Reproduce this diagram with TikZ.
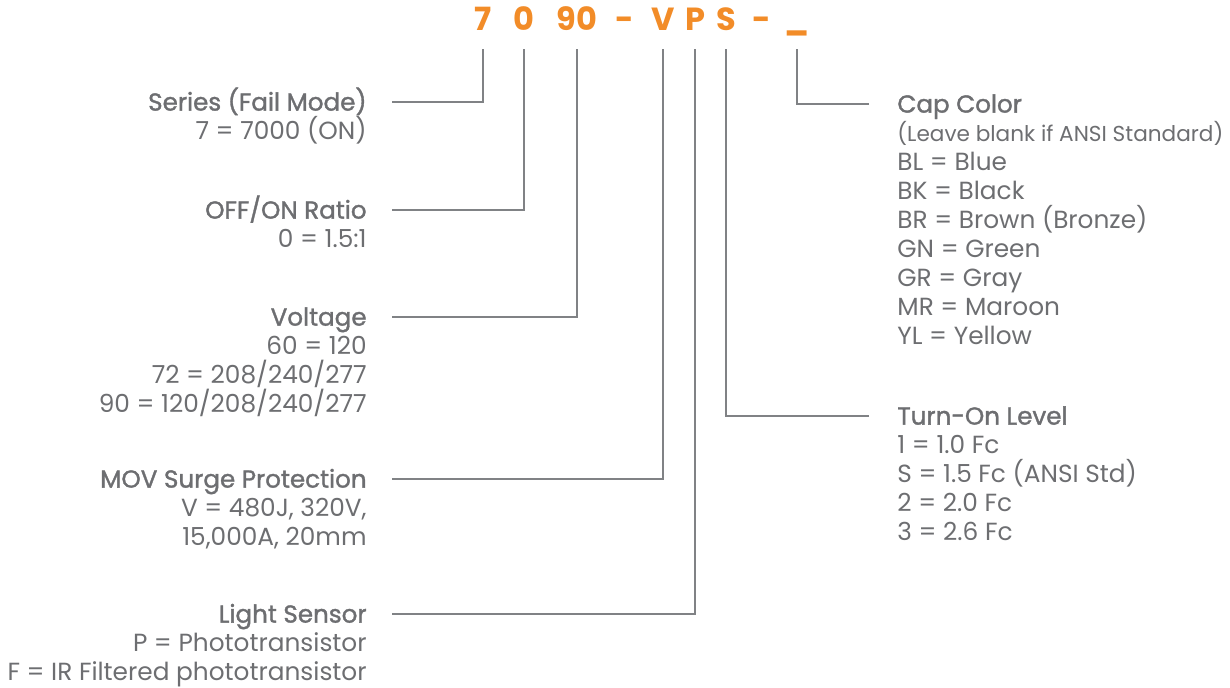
\documentclass[tikz,border=0pt]{standalone}
\usepackage{fontspec}
\setmainfont{Poppins}
\definecolor{codeorange}{HTML}{F28C28}
\definecolor{txtgray}{HTML}{6D6E71}
\definecolor{linegray}{HTML}{808285}
\begin{document}
\begin{tikzpicture}[x=0.5pt,y=-0.5pt,
  code/.style={font=\fontsize{16}{16}\selectfont\bfseries,text=codeorange,inner sep=0pt,anchor=base},
  head/.style={font=\fontsize{12.3}{14.5}\selectfont\addfontfeatures{FakeBold=1.4},text=txtgray,inner sep=0pt,text height=8.6pt,text depth=0pt},
  vals/.style={font=\fontsize{12.4}{14.5}\selectfont,text=txtgray,inner sep=0pt},
  link/.style={draw=linegray,line width=1.3pt}]
\useasboundingbox (0,0) rectangle (1230,687);
\node[code] (c7) at (483,30) {7};
\node[code] (c0) at (524,30) {0};
\node[code] (c90) at (577,30) {90};
\node[code] (d1) at (625,30) {-};
\node[code] (cV) at (663,30) {V};
\node[code] (cP) at (695,30) {P};
\node[code] (cS) at (726,30) {S};
\node[code] (d2) at (762,30) {-};
\node[code] (cX) at (797,29) {\_};
\coordinate (top) at (0,49);
% left side
\node[head,anchor=east] (serH) at (367,102) {Series (Fail Mode)};
\node[vals,anchor=base east,align=right] (serV) at ([yshift=-14.5pt]serH.base east) {7 = 7000 (ON)};
\node[head,anchor=east] (ratH) at (367,210) {OFF/ON Ratio};
\node[vals,anchor=base east,align=right] (ratV) at ([yshift=-14.5pt]ratH.base east) {0 = 1.5:1};
\node[head,anchor=east] (volH) at (367,317) {Voltage};
\node[vals,anchor=base east,align=right] (volV) at ([yshift=-43.5pt]volH.base east) {60 = 120\\72 = 208/240/277\\90 = 120/208/240/277};
\node[head,anchor=east] (movH) at (367,479) {MOV Surge Protection};
\node[vals,anchor=base east,align=right] (movV) at ([yshift=-29pt]movH.base east) {V = 480J, 320V,\\15,000A, 20mm};
\node[head,anchor=east] (senH) at (367,614) {Light Sensor};
\node[vals,anchor=base east,align=right] (senV) at ([yshift=-29pt]senH.base east) {P = Phototransistor\\F = IR Filtered phototransistor};
% right side
\node[head,anchor=west] (capH) at (897,104) {Cap Color};
\node[vals,anchor=base west,align=left] (capV) at ([yshift=-116pt]capH.base west) {{\fontsize{10.8}{14.5}\selectfont(Leave blank if ANSI Standard)}\\BL = Blue\\BK = Black\\BR = Brown (Bronze)\\GN = Green\\GR = Gray\\MR = Maroon\\YL = Yellow};
\node[head,anchor=west] (lvlH) at (897,416) {Turn-On Level};
\node[vals,anchor=base west,align=left] (lvlV) at ([yshift=-58pt]lvlH.base west) {1 = 1.0 Fc\\S = 1.5 Fc (ANSI Std)\\2 = 2.0 Fc\\3 = 2.6 Fc};
% connectors
\draw[link] ([xshift=12.5pt]serH.east) -| (c7 |- top);
\draw[link] ([xshift=12.5pt]ratH.east) -| (c0 |- top);
\draw[link] ([xshift=12.5pt]volH.east) -| (c90 |- top);
\draw[link] ([xshift=12.5pt]movH.east) -| (cV |- top);
\draw[link] ([xshift=12.5pt]senH.east) -| (cP |- top);
\draw[link] ([xshift=-14pt]capH.west) -| (cX |- top);
\draw[link] ([xshift=-14pt]lvlH.west) -| (cS |- top);
\end{tikzpicture}
\end{document}
